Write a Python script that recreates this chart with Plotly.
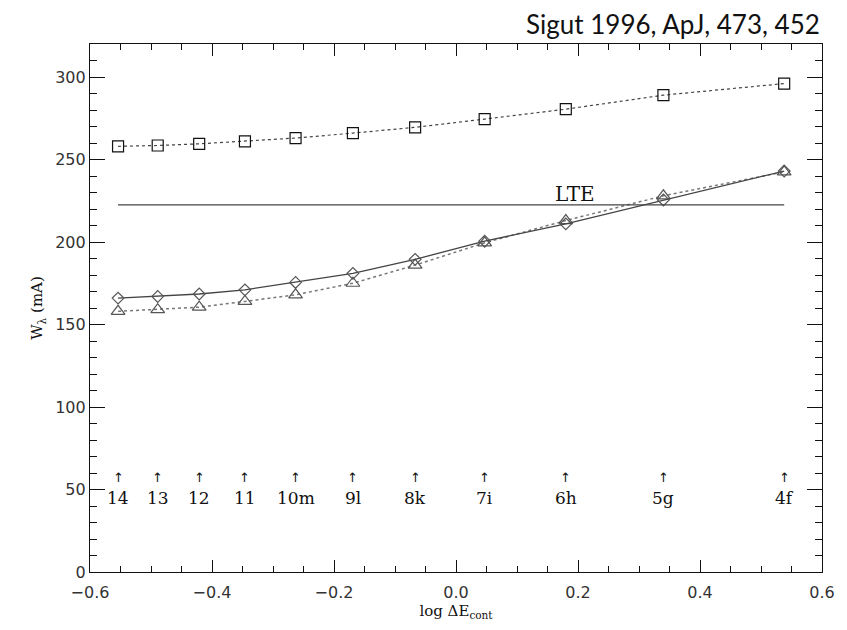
import plotly.graph_objects as go

# Data
log_dE = [-0.554, -0.489, -0.421, -0.346, -0.263, -0.169, -0.067, 0.047, 0.180, 0.340, 0.538]
level_labels = ["14", "13", "12", "11", "10m", "9l", "8k", "7i", "6h", "5g", "4f"]
w_squares = [258, 258.5, 259.5, 261, 263, 266, 269.5, 274.5, 280.5, 289, 296]
w_diamonds = [166, 167, 168.5, 171, 175.5, 181, 189.5, 200.5, 211, 225.5, 243]
w_triangles = [158, 159, 160.5, 164, 168, 175, 186, 199.5, 213, 228, 242.5]
lte_value = 222.5
arrow_y = 57
label_y = 45

fig = go.Figure()

fig.add_trace(go.Scatter(
    x=log_dE, y=w_squares, mode="lines+markers",
    line=dict(color="#444", width=1.2, dash="dot"),
    marker=dict(symbol="square-open", size=11, color="#111", line=dict(width=1.2)),
    showlegend=False))
fig.add_trace(go.Scatter(
    x=log_dE, y=w_triangles, mode="lines+markers",
    line=dict(color="#777", width=1.5, dash="dot"),
    marker=dict(symbol="triangle-up-open", size=12, color="#555", line=dict(width=1.2)),
    showlegend=False))
fig.add_trace(go.Scatter(
    x=log_dE, y=w_diamonds, mode="lines+markers",
    line=dict(color="#444", width=1.3),
    marker=dict(symbol="diamond-open", size=9, color="#555", line=dict(width=1.2)),
    showlegend=False))

# LTE line
fig.add_trace(go.Scatter(
    x=[log_dE[0], log_dE[-1]], y=[lte_value, lte_value], mode="lines",
    line=dict(color="#444", width=1.2), showlegend=False, hoverinfo="skip"))

annotations = []
annotations.append(dict(x=0.195, y=lte_value, text="LTE", showarrow=False,
                        yanchor="bottom", yshift=-3,
                        font=dict(family="DejaVu Serif", size=20, color="#111")))
for xv, lab in zip(log_dE, level_labels):
    annotations.append(dict(x=xv, y=arrow_y, text="↑", showarrow=False,
                            font=dict(family="DejaVu Sans", size=13, color="#111")))
    annotations.append(dict(x=xv, y=label_y, text=lab, showarrow=False,
                            font=dict(family="DejaVu Serif", size=17, color="#111")))
annotations.append(dict(xref="paper", yref="paper", x=1.0, y=1.0, yshift=2,
                        xanchor="right", yanchor="bottom",
                        text="Sigut 1996, ApJ, 473, 452", showarrow=False,
                        font=dict(family="Lato", size=26, color="#111")))

fig.update_layout(
    width=847, height=630,
    margin=dict(l=90, r=19, t=44, b=58),
    plot_bgcolor="white", paper_bgcolor="white",
    annotations=annotations,
    font=dict(family="DejaVu Sans", size=15, color="#333"),
)
fig.update_xaxes(
    range=[-0.6, 0.6], dtick=0.2, tick0=-0.6, tickformat=".1f",
    ticks="inside", ticklen=12, tickcolor="#111", tickwidth=1,
    showline=True, linecolor="#111", linewidth=1.2, mirror="ticks",
    showgrid=False, zeroline=False,
    minor=dict(dtick=0.05, ticks="inside", ticklen=6, tickcolor="#111", showgrid=False),
    title=dict(text="log ΔE<sub>cont</sub>", font=dict(family="DejaVu Serif", size=15, color="#111"), standoff=4),
    tickfont=dict(size=16), ticklabelstandoff=6,
)
fig.update_yaxes(
    range=[0, 320], dtick=50, tick0=0,
    ticks="inside", ticklen=15, tickcolor="#111", tickwidth=1,
    showline=True, linecolor="#111", linewidth=1.2, mirror="ticks",
    showgrid=False, zeroline=False,
    minor=dict(dtick=10, ticks="inside", ticklen=7, tickcolor="#111", showgrid=False),
    title=dict(text="W<sub>λ</sub> (mA)", font=dict(family="DejaVu Serif", size=15, color="#111"), standoff=8),
    tickfont=dict(size=16),
)

fig.write_html("out.html")
